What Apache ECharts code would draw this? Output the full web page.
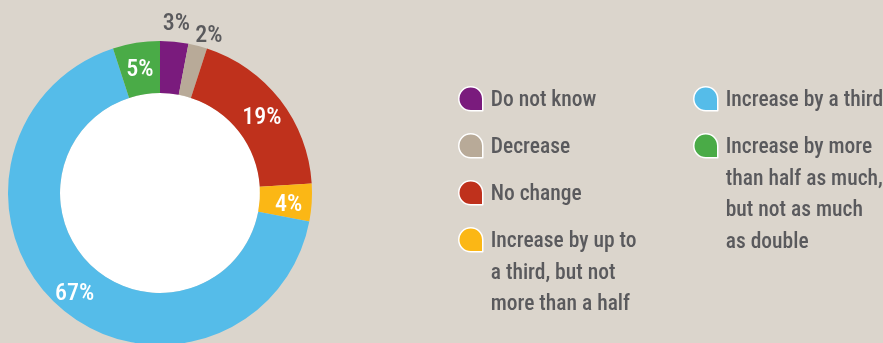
<!DOCTYPE html>
<html>
<head>
<meta charset="utf-8">
<script src="https://cdn.jsdelivr.net/npm/echarts@6/dist/echarts.min.js"></script>
<style>
  html, body { margin: 0; padding: 0; background: #dbd5cc; }
  #chart { width: 883px; height: 343px; }
</style>
</head>
<body>
<div id="chart"></div>
<script>
// Survey answers, in drawing order (clockwise from 12 o'clock)
const categories = [
  'Do not know',
  'Decrease',
  'No change',
  'Increase by up to a third, but not more than a half',
  'Increase by a third',
  'Increase by more than half as much, but not as much as double'
];
// Legend wording, split into its printed lines
const legendLines = [
  ['Do not know'],
  ['Decrease'],
  ['No change'],
  ['Increase by up to', 'a third, but not', 'more than a half'],
  ['Increase by a third'],
  ['Increase by more', 'than half as much,', 'but not as much', 'as double']
];
// Share of respondents, percent
const shares = [3, 2, 19, 4, 67, 5];
// Which slices carry their value outside the ring
const outsideLabel = [true, true, false, false, false, false];

const colors = ['#7a1b7d', '#b8aa98', '#bf311c', '#fbb715', '#55bce9', '#4aab47'];
// Condensed face of Roboto, selected through the font-stretch keyword
const FONT = 'Roboto';
const STRETCH = 'normal condensed';
const TEXT_GREY = '#5a5a5d';
const LINE_H = 31.5;

// Legend grid: two columns, fixed row pitch
const legendColumn = [0, 0, 0, 0, 1, 1];
const legendRow = [0, 1, 2, 3, 0, 1];
const COL_X = [458, 693];
const ROW0 = 100, ROW_PITCH = 47;

// Speech-bubble marker sitting on the first text line; the bare move-to
// points stretch the icon box to the full height of the text block.
function bubbleIcon(lines) {
  const h = lines * LINE_H;
  const s = 24, r = 12, t = (LINE_H - s) / 2 - 2;
  return 'path://M0,0 ' +
    'M' + r + ',' + t +
    ' A' + r + ',' + r + ' 0 0 1 ' + s + ',' + (t + r) +
    ' L' + s + ',' + (t + s) +
    ' L' + r + ',' + (t + s) +
    ' A' + r + ',' + r + ' 0 0 1 0,' + (t + r) +
    ' A' + r + ',' + r + ' 0 0 1 ' + r + ',' + t + ' Z' +
    ' M27,' + h;
}

const legends = categories.map(function (name, i) {
  const n = legendLines[i].length;
  return {
    data: [{ name: name, icon: bubbleIcon(n) }],
    left: COL_X[legendColumn[i]],
    top: ROW0 + ROW_PITCH * legendRow[i] - LINE_H / 2,
    padding: 0,
    itemWidth: 27,
    itemHeight: n * LINE_H,
    selectedMode: false,
    itemStyle: { borderColor: '#ffffff', borderWidth: 1.5 },
    formatter: function () { return legendLines[i].join('\n'); },
    textStyle: {
      color: TEXT_GREY,
      fontSize: 21.5,
      fontStyle: STRETCH,
      fontWeight: 500,
      fontFamily: FONT,
      lineHeight: LINE_H
    }
  };
});

const pieData = categories.map(function (name, i) {
  const item = { name: name, value: shares[i], itemStyle: { color: colors[i] } };
  if (outsideLabel[i]) {
    item.label = { position: 'outside', color: TEXT_GREY, distanceToLabelLine: 0 };
    item.labelLine = { show: false, length: i === 0 ? 22 : 14.5, length2: i === 0 ? 0 : 7.5 };
  }
  return item;
});

const chart = echarts.init(document.getElementById('chart'), null, { renderer: 'canvas' });
chart.setOption({
  backgroundColor: '#dbd5cc',
  animation: false,
  legend: legends,
  series: [{
    type: 'pie',
    center: [160, 193],
    radius: [100, 152],
    startAngle: 90,
    clockwise: true,
    avoidLabelOverlap: false,
    emphasis: { disabled: true },
    itemStyle: { borderWidth: 0 },
    label: {
      show: true,
      position: 'inside',
      formatter: '{c}%',
      color: '#ffffff',
      fontSize: 24,
      fontStyle: STRETCH,
      fontWeight: 500,
      fontFamily: FONT
    },
    // sit the digits a little lower; centre the outside labels on the
    // end of their (hidden) leader line
    labelLayout: function (p) {
      const shift = { dy: 4 };
      if (p.align === 'left') shift.dx = -p.labelRect.width / 2;
      return shift;
    },
    data: pieData
  }],
  graphic: [{
    type: 'circle',
    silent: true,
    z: -1,
    shape: { cx: 160, cy: 193, r: 100 },
    style: { fill: '#ffffff' }
  }]
});
</script>
</body>
</html>
